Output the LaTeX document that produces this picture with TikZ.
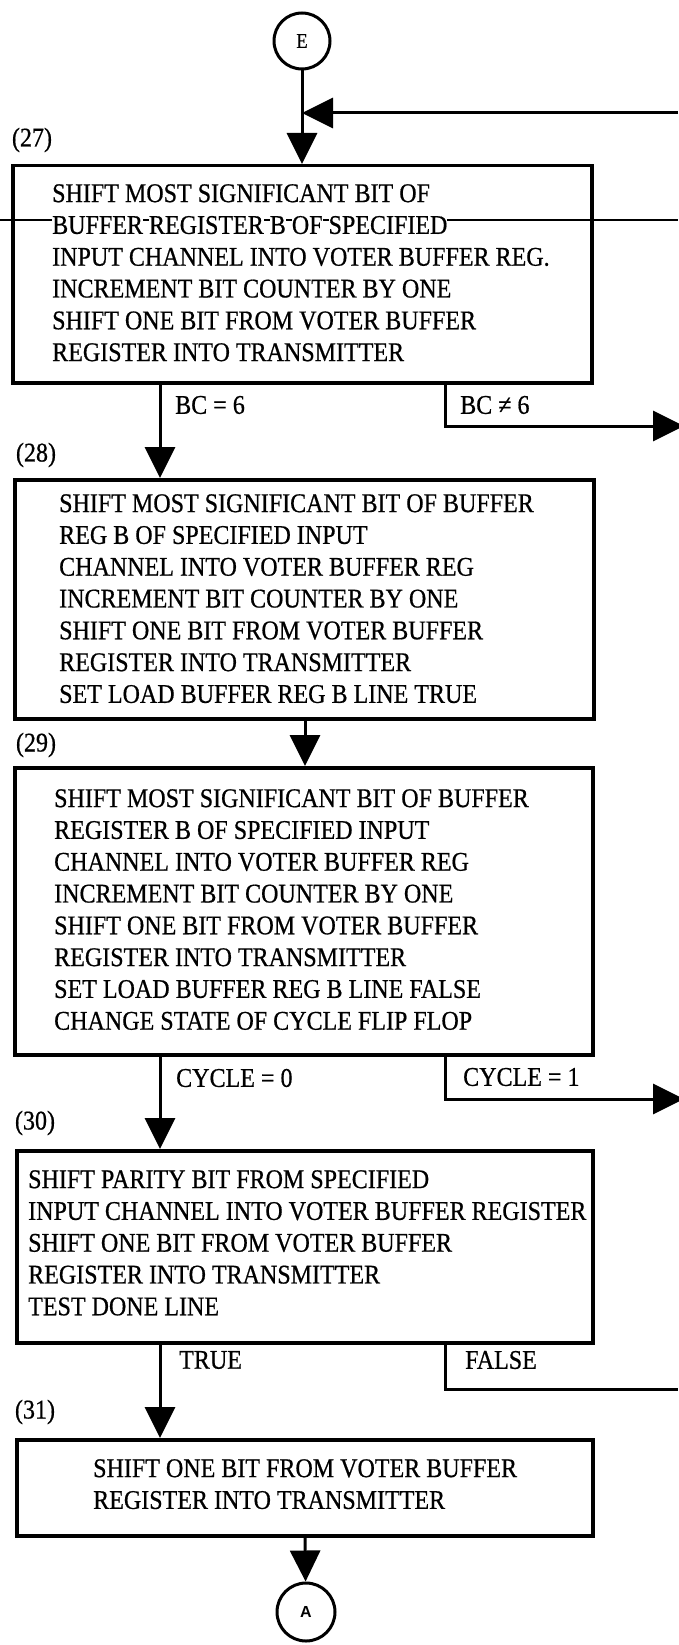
\documentclass[tikz,border=0pt]{standalone}
\usepackage{fontspec}
\setmainfont{Liberation Serif}[FakeStretch=0.89,FakeBold=0.6]
\newfontfamily\circsans{Liberation Sans}
\usetikzlibrary{arrows.meta}
% white box behind a word, so a crossing rule shows only between words
\newcommand\wordmask[1]{{\setlength{\fboxsep}{0pt}\colorbox{white}{#1}}}
\begin{document}
\begin{tikzpicture}[x=1pt,y=-1pt,
  box/.style={draw, line width=3.5pt, rectangle, inner sep=0pt, anchor=north west},
  boxtext/.style={anchor=north west, inner sep=0pt, align=left,
                  font=\fontsize{27}{31.8}\selectfont},
  steplabel/.style={inner sep=0pt, font=\fontsize{27}{31.8}\selectfont},
  cond/.style={anchor=west, inner sep=0pt, font=\fontsize{27}{31.8}\selectfont},
  wire/.style={line width=3pt},
  flow/.style={wire, -{Triangle[length=31pt,width=30pt]}},
  connector/.style={draw, circle, line width=3pt, inner sep=0pt}
]
\useasboundingbox (0,0) rectangle (678,1645);

% rule running across the sheet
\draw[line width=1.3pt] (0,220) -- (678,220);

% entry connector
\node[connector, minimum size=56pt, font=\fontsize{21}{24}\selectfont] (E) at (302,41) {E};

% step labels
\node[steplabel] (lab27) at (32,140) {(27)};
\node[steplabel] (lab28) at (36,455) {(28)};
\node[steplabel] (lab29) at (36,745) {(29)};
\node[steplabel] (lab30) at (35,1123) {(30)};
\node[steplabel] (lab31) at (35,1412) {(31)};

% process boxes
\node[box, minimum width=579pt, minimum height=217pt] (box27) at (11,164) {};
\node[box, minimum width=579pt, minimum height=239pt] (box28) at (13,478) {};
\node[box, minimum width=578pt, minimum height=287pt] (box29) at (13,766) {};
\node[box, minimum width=576pt, minimum height=192pt] (box30) at (15,1149) {};
\node[box, minimum width=576pt, minimum height=96pt]  (box31) at (15,1438) {};

% box contents
\node[boxtext] (txt27) at (52,184) {SHIFT MOST SIGNIFICANT BIT OF\\
  \wordmask{BUFFER} \wordmask{REGISTER} \wordmask{B} \wordmask{OF} \wordmask{SPECIFIED}\\
  INPUT CHANNEL INTO VOTER BUFFER REG.\\
  INCREMENT BIT COUNTER BY ONE\\
  SHIFT ONE BIT FROM VOTER BUFFER\\
  REGISTER INTO TRANSMITTER};
\node[boxtext] (txt28) at (59,494) {SHIFT MOST SIGNIFICANT BIT OF BUFFER\\
  REG B OF SPECIFIED INPUT\\
  CHANNEL INTO VOTER BUFFER REG\\
  INCREMENT BIT COUNTER BY ONE\\
  SHIFT ONE BIT FROM VOTER BUFFER\\
  REGISTER INTO TRANSMITTER\\
  SET LOAD BUFFER REG B LINE TRUE};
\node[boxtext] (txt29) at (54,789) {SHIFT MOST SIGNIFICANT BIT OF BUFFER\\
  REGISTER B OF SPECIFIED INPUT\\
  CHANNEL INTO VOTER BUFFER REG\\
  INCREMENT BIT COUNTER BY ONE\\
  SHIFT ONE BIT FROM VOTER BUFFER\\
  REGISTER INTO TRANSMITTER\\
  SET LOAD BUFFER REG B LINE FALSE\\
  CHANGE STATE OF CYCLE FLIP FLOP};
\node[boxtext] (txt30) at (28,1170) {SHIFT PARITY BIT FROM SPECIFIED\\
  INPUT CHANNEL INTO VOTER BUFFER REGISTER\\
  SHIFT ONE BIT FROM VOTER BUFFER\\
  REGISTER INTO TRANSMITTER\\
  TEST DONE LINE};
\node[boxtext] (txt31) at (93,1459) {SHIFT ONE BIT FROM VOTER BUFFER\\
  REGISTER INTO TRANSMITTER};

% exit connector
\node[connector, minimum size=58pt, font=\circsans\bfseries\fontsize{16}{18}\selectfont] (A) at (306,1612) {A};

% branch conditions
\node[cond] (c27a) at (175,405) {BC = 6};
\node[cond] (c27b) at (460,405) {BC ≠ 6};
\node[cond] (c29a) at (176,1078) {CYCLE = 0};
\node[cond] (c29b) at (463,1077) {CYCLE = 1};
\node[cond] (c30a) at (179,1360) {TRUE};
\node[cond] (c30b) at (465,1360) {FALSE};

% columns and off-sheet ends of the flow lines
\coordinate (colL) at (160,0);
\coordinate (colM) at (305,0);
\coordinate (colR) at (445,0);
\coordinate (back27) at (678,113);
\coordinate (out27) at (684,426);
\coordinate (out29) at (684,1099);
\coordinate (out30) at (678,1389);

% flow lines
\draw[flow] (E) -- (box27.north -| E);
\draw[flow] (back27) -- (back27 -| E);
\draw[flow] (box27.south -| colL) -- (box28.north -| colL);
\draw[flow] (box27.south -| colR) |- (out27);
\draw[flow] (box28.south -| colM) -- (box29.north -| colM);
\draw[flow] (box29.south -| colL) -- (box30.north -| colL);
\draw[flow] (box29.south -| colR) |- (out29);
\draw[flow] (box30.south -| colL) -- (box31.north -| colL);
\draw[wire] (box30.south -| colR) |- (out30);
\draw[flow] (box31.south -| colM) -- (A);
\end{tikzpicture}
\end{document}
